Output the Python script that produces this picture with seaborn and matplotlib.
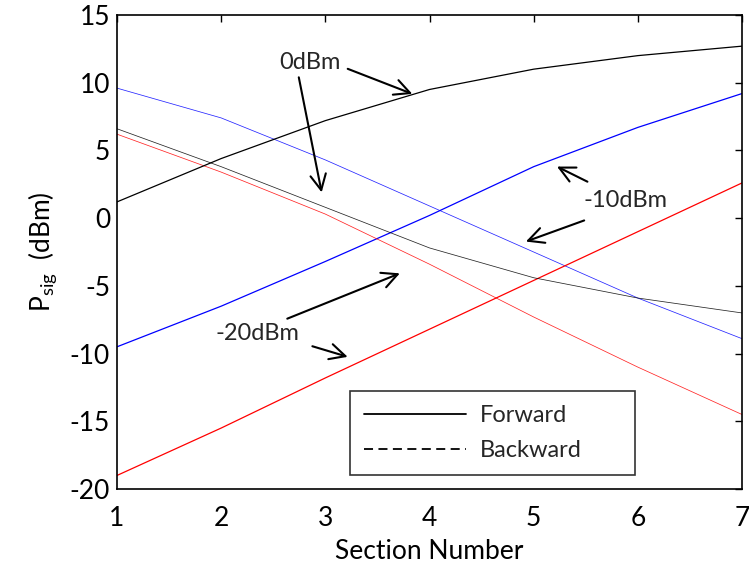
import numpy as np
import pandas as pd
import matplotlib
matplotlib.use("Agg")
import matplotlib.pyplot as plt
import seaborn as sns
from matplotlib.lines import Line2D

sections = [1, 2, 3, 4, 5, 6, 7]
fwd_0dBm = [1.2, 4.4, 7.2, 9.5, 11.0, 12.0, 12.7]
bwd_0dBm = [6.6, 3.8, 0.8, -2.2, -4.4, -5.9, -7.0]
fwd_m10dBm = [-9.5, -6.5, -3.2, 0.2, 3.8, 6.7, 9.2]
bwd_m10dBm = [9.6, 7.4, 4.3, 0.9, -2.5, -5.9, -8.9]
fwd_m20dBm = [-19.0, -15.5, -11.8, -8.2, -4.6, -1.0, 2.6]
bwd_m20dBm = [6.2, 3.4, 0.3, -3.4, -7.3, -11.0, -14.5]
powers = ["0dBm", "-10dBm", "-20dBm"]
colors = {"0dBm": "black", "-10dBm": "blue", "-20dBm": "red"}

rows = []
for p, f, b in zip(powers, [fwd_0dBm, fwd_m10dBm, fwd_m20dBm],
                   [bwd_0dBm, bwd_m10dBm, bwd_m20dBm]):
    for x, v in zip(sections, f):
        rows.append((p, "Forward", x, v))
    for x, v in zip(sections, b):
        rows.append((p, "Backward", x, v))
df = pd.DataFrame(rows, columns=["power", "direction", "section", "psig"])

sns.set_theme(style="white")
plt.rcParams["font.family"] = ["Lato", "DejaVu Sans"]
plt.rcParams["mathtext.fontset"] = "custom"
plt.rcParams["mathtext.rm"] = "Lato"
plt.rcParams["mathtext.it"] = "Lato"
plt.rcParams["axes.unicode_minus"] = False

fig = plt.figure(figsize=(7.49, 5.67), dpi=100)
ax = fig.add_axes([117/749, 1 - 489/567, 625/749, 474/567])

for (p, d), g in df.groupby(["power", "direction"]):
    sns.lineplot(data=g, x="section", y="psig", ax=ax, color=colors[p],
                 lw=0.9 if d == "Forward" else 0.55,
                 alpha=1.0 if d == "Forward" else 0.85, legend=False)

ax.set_xlim(1, 7)
ax.set_ylim(-20, 15)
ax.set_xticks(sections)
ax.set_yticks([-20, -15, -10, -5, 0, 5, 10, 15])
ax.tick_params(direction="in", top=True, right=True, length=5, width=1,
               labelsize=19, colors="black", pad=5)
ax.tick_params(axis="x", pad=12)
for s in ax.spines.values():
    s.set_color("black")
    s.set_linewidth(1.2)
ax.set_xlabel("Section Number", fontsize=19, color="black", labelpad=6)
ax.set_ylabel(r"P$_{\mathregular{sig}}$  (dBm)", fontsize=19, color="black", labelpad=8)

arrow = dict(arrowstyle="->", color="black", lw=1.5, mutation_scale=28)
ax.text(2.85, 11.5, "0dBm", fontsize=17, ha="center", va="center")
ax.annotate("", xy=(3.86, 9.1), xytext=(3.19, 11.1), arrowprops=arrow)
ax.annotate("", xy=(2.97, 1.7), xytext=(2.74, 10.6), arrowprops=arrow)
ax.text(5.88, 1.3, "-10dBm", fontsize=17, ha="center", va="center")
ax.annotate("", xy=(4.9, -1.8), xytext=(5.51, -0.1), arrowprops=arrow)
ax.annotate("", xy=(5.2, 3.9), xytext=(5.54, 2.6), arrowprops=arrow)
ax.text(2.35, -8.5, "-20dBm", fontsize=17, ha="center", va="center")
ax.annotate("", xy=(3.74, -4.0), xytext=(2.61, -7.5), arrowprops=arrow)
ax.annotate("", xy=(3.24, -10.3), xytext=(2.85, -9.4), arrowprops=arrow)

handles = [Line2D([], [], color="black", lw=1.3, ls="-"),
           Line2D([], [], color="black", lw=1.3, ls=(0, (5, 3)))]
leg = ax.legend(handles, ["Forward", "Backward"], loc="center",
                bbox_to_anchor=(0.373, 0.027, 0.456, 0.182), mode="expand",
                fontsize=17, frameon=True, fancybox=False, handlelength=4.3,
                handletextpad=0.6, borderpad=0.6, labelspacing=0.6,
                borderaxespad=0)
leg.get_frame().set_edgecolor("black")
leg.get_frame().set_linewidth(1.2)

fig.savefig("out.png", dpi=100)
